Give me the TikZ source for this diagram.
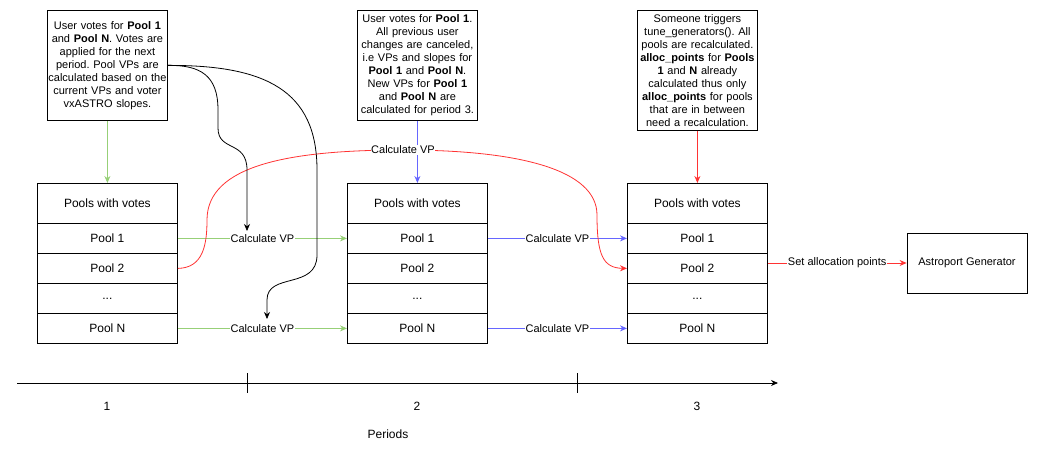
\documentclass[tikz,border=0pt]{standalone}
\usepackage{fontspec}
\setmainfont{Liberation Sans}
\usetikzlibrary{arrows.meta}
\definecolor{cgreen}{HTML}{97D077}
\definecolor{cblue}{HTML}{6666FF}
\definecolor{cred}{HTML}{FF3333}
\frenchspacing
\begin{document}
\begin{tikzpicture}[x=1pt,y=-1pt,
  cell/.style={draw, line width=0.8pt, minimum width=140pt, minimum height=30pt, inner sep=0pt, font=\fontsize{12}{14}\selectfont, anchor=north west},
  note/.style={draw, line width=0.8pt, align=center, font=\fontsize{11}{13}\selectfont\frenchspacing, inner xsep=0pt, inner ysep=1pt, anchor=north west, text width=120pt},
  lbl/.style={fill=white, text=black, font=\fontsize{11}{13}\selectfont, inner sep=0.5pt},
  arr/.style={-{Stealth[length=7pt,width=6pt]}, line width=0.8pt},
  plain/.style={font=\fontsize{12}{14}\selectfont}
]
\useasboundingbox (0,0) rectangle (1038,452);

% notes
\node[note, minimum height=110pt] (n1) at (47,10) {User votes for \textbf{Pool 1}\\ and \textbf{Pool N}. Votes are\\ applied for the next\\ period. Pool VPs are\\ calculated based on the\\ current VPs and voter\\ vxASTRO slopes.};
\node[note, minimum height=110pt] (n2) at (357,10) {User votes for \textbf{Pool 1}.\\ All previous user\\ changes are canceled,\\ i.e VPs and slopes for\\ \textbf{Pool 1} and \textbf{Pool N}.\\ New VPs for \textbf{Pool 1}\\ and \textbf{Pool N} are\\ calculated for period 3.};
\node[note, minimum height=120pt] (n3) at (637,10) {Someone triggers\\ tune\_generators(). All\\ pools are recalculated.\\ \textbf{alloc\_points} for \textbf{Pools}\\ \textbf{1} and \textbf{N} already\\ calculated thus only\\ \textbf{alloc\_points} for pools\\ that are in between\\ need a recalculation.};

% tables
\node[cell, minimum height=40pt] (t1h) at (37,183) {Pools with votes};
\node[cell] (t1a) at (37,223) {Pool 1};
\node[cell] (t1b) at (37,253) {Pool 2};
\node[cell] (t1c) at (37,283) {...};
\node[cell] (t1n) at (37,313) {Pool N};

\node[cell, minimum height=40pt] (t2h) at (347,183) {Pools with votes};
\node[cell] (t2a) at (347,223) {Pool 1};
\node[cell] (t2b) at (347,253) {Pool 2};
\node[cell] (t2c) at (347,283) {...};
\node[cell] (t2n) at (347,313) {Pool N};

\node[cell, minimum height=40pt] (t3h) at (627,183) {Pools with votes};
\node[cell] (t3a) at (627,223) {Pool 1};
\node[cell] (t3b) at (627,253) {Pool 2};
\node[cell] (t3c) at (627,283) {...};
\node[cell] (t3n) at (627,313) {Pool N};

\node[draw, line width=0.8pt, minimum width=120pt, minimum height=60pt, font=\fontsize{11}{13}\selectfont] (ag) at (967,263) {Astroport Generator};

% vertical arrows from notes
\draw[arr, cgreen] (n1.south) -- (t1h.north);
\draw[arr, cblue] (n2.south) -- (t2h.north);
\draw[arr, cred] (n3.south) -- (t3h.north);

% horizontal arrows
\draw[arr, cgreen] (t1a.east) -- node[lbl]{Calculate VP} (t2a.west);
\draw[arr, cgreen] (t1n.east) -- node[lbl]{Calculate VP} (t2n.west);
\draw[arr, cblue] (t2a.east) -- node[lbl]{Calculate VP} (t3a.west);
\draw[arr, cblue] (t2n.east) -- node[lbl]{Calculate VP} (t3n.west);
\draw[arr, cred] (t3b.east |- ag.west) -- node[lbl]{Set allocation points} (ag.west);

% red curve
\draw[arr, cred] (t1b.east) .. controls (203,268) and (207,245) .. (207,220)
  .. controls (207,165) and (290,150) .. (403,150) node[lbl]{Calculate VP}
  .. controls (520,150) and (597,170) .. (597,215)
  .. controls (597,255) and (603,268) .. (t3b.west);

% black curves
\coordinate (c1) at (247,231);
\coordinate (c2) at (267,319);
\draw[arr, black] (n1.east) .. controls (200,65) and (218,75) .. (218,110) -- (218,128)
  .. controls (218,152) and (247,140) .. (247,170) -- (c1);
\draw[arr, black] (n1.east) .. controls (265,65) and (317,90) .. (317,170) -- (317,255)
  .. controls (317,290) and (267,272) .. (267,300) -- (c2);

% timeline
\coordinate (ts) at (17,383);
\coordinate (te) at (778,383);
\draw[arr, black] (ts) -- (te);
\coordinate (k1a) at (247,373); \coordinate (k1b) at (247,393);
\coordinate (k2a) at (577,373); \coordinate (k2b) at (577,393);
\draw[line width=0.8pt] (k1a) -- (k1b);
\draw[line width=0.8pt] (k2a) -- (k2b);
\node[plain] (p1) at (107,406) {1};
\node[plain] (p2) at (417,406) {2};
\node[plain] (p3) at (697,406) {3};
\node[plain] (per) at (388,434) {Periods};
\end{tikzpicture}
\end{document}
